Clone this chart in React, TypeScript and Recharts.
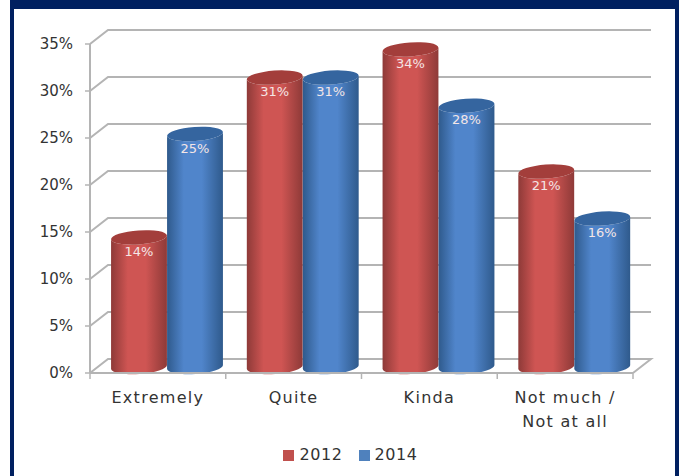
import { BarChart, Bar, XAxis, YAxis, CartesianGrid, Legend, LabelList } from 'recharts';

const categories = ['Extremely', 'Quite', 'Kinda', 'Not much /\nNot at all'];
const values2012 = [14, 31, 34, 21];
const values2014 = [25, 31, 28, 16];
const yTicks = [0, 5, 10, 15, 20, 25, 30, 35];

const chartData = categories.map((name, i) => ({
    name,
    '2012': values2012[i],
    '2014': values2014[i],
}));

const WIDTH = 683;
const HEIGHT = 476;
const PLOT_LEFT = 90;
const PLOT_RIGHT = 633;
const BAND = (PLOT_RIGHT - PLOT_LEFT) / categories.length;

// 3D box depth: how far the back wall sits from the front axes
const DEPTH_X = 18;
const DEPTH_Y = 14;
const GRID = '#b4b4b4';
const TEXT = '#333333';
const FONT = '"DejaVu Sans", sans-serif';

const RED = { fill: '#c0504d', top: '#a33e3b', id: 'cylRed' };
const BLUE = { fill: '#4f81bd', top: '#35659f', id: 'cylBlue' };

const TILT = -4;

// gridlines run up the side wall and then along the back wall
function gridLine(props: any) {
    const { x1, y1, x2, index } = props;
    const isFloor = Math.abs(y1 - 373) < 2;
    const back = y1 - DEPTH_Y;
    let d = `M${x1},${y1} L${x1 + DEPTH_X},${back} L${x2 + DEPTH_X},${back}`;
    if (isFloor) d += ` L${x2},${y1}`;
    return <path key={index} d={d} fill="none" stroke={GRID} strokeWidth={2} />;
}

function Cylinder(props: any) {
    const { x, y, width, height, colors } = props;
    const rx = width / 2;
    const ry = 7;
    const cx = x + rx + DEPTH_X / 2;
    const topY = y - 4;
    const baseY = y + height - 6;
    const rad = (TILT * Math.PI) / 180;
    const dx = rx * Math.cos(rad);
    const dy = rx * Math.sin(rad);
    const body =
        `M${cx - dx},${topY - dy} L${cx - dx},${baseY - dy} ` +
        `A${rx},${ry} ${TILT} 0 0 ${cx + dx},${baseY + dy} ` +
        `L${cx + dx},${topY + dy} A${rx},${ry} ${TILT} 0 1 ${cx - dx},${topY - dy} Z`;
    return (
        <g>
            <path d={body} fill={`url(#${colors.id})`} />
            <ellipse
                cx={cx}
                cy={topY}
                rx={rx}
                ry={ry}
                fill={colors.top}
                transform={`rotate(${TILT} ${cx} ${topY})`}
            />
        </g>
    );
}

function CylinderLabel(props: any) {
    const { x, y, width, value } = props;
    return (
        <text
            x={x + width / 2 + DEPTH_X / 2}
            y={y + 10}
            textAnchor="middle"
            dominantBaseline="central"
            fontSize={13}
            fill="#f4e6e6"
        >
            {`${value}%`}
        </text>
    );
}

// category labels sit mid band, tick marks sit on the band edges
function CategoryTick(props: any) {
    const { x, y, payload, index } = props;
    const lines = String(payload.value).split('\n');
    const axisY = 373;
    return (
        <g>
            <line x1={x - BAND / 2} x2={x - BAND / 2} y1={axisY} y2={axisY + 6} stroke={GRID} strokeWidth={1.5} />
            {index === categories.length - 1 && (
                <line x1={x + BAND / 2} x2={x + BAND / 2} y1={axisY} y2={axisY + 6} stroke={GRID} strokeWidth={1.5} />
            )}
            <text textAnchor="middle" fontSize={16} fill={TEXT} letterSpacing={1.3}>
                {lines.map((line, i) => (
                    <tspan key={i} x={x} y={y + 22 + i * 24}>
                        {line}
                    </tspan>
                ))}
            </text>
        </g>
    );
}

function Gradient({ id, edge, mid }: { id: string; edge: string; mid: string }) {
    return (
        <linearGradient id={id} x1="0" y1="0" x2="1" y2="0">
            <stop offset="0%" stopColor={edge} />
            <stop offset="30%" stopColor={mid} />
            <stop offset="62%" stopColor={mid} />
            <stop offset="100%" stopColor={edge} />
        </linearGradient>
    );
}

export default function App() {
    return (
        <div style={{ position: 'absolute', left: 0, top: 0, width: WIDTH, height: HEIGHT, background: '#fff' }}>
            <div
                style={{
                    position: 'absolute',
                    left: 10,
                    top: 0,
                    width: 669,
                    height: HEIGHT,
                    boxSizing: 'border-box',
                    borderLeft: '4px solid #002060',
                    borderRight: '4px solid #002060',
                    borderTop: '9px solid #002060',
                }}
            />
            <div style={{ position: 'absolute', left: 0, top: 0 }}>
                <BarChart
                    width={WIDTH}
                    height={HEIGHT}
                    data={chartData}
                    margin={{ top: 44, right: WIDTH - PLOT_RIGHT, bottom: 0, left: 0 }}
                    barGap={0}
                    barSize={56}
                    style={{ fontFamily: FONT }}
                >
                    <defs>
                        <Gradient id={RED.id} edge="#8e3a38" mid="#cf5553" />
                        <Gradient id={BLUE.id} edge="#2f5a8c" mid="#5085cb" />
                    </defs>
                    <CartesianGrid vertical={false} horizontal={gridLine} />
                    <XAxis
                        dataKey="name"
                        interval={0}
                        height={84}
                        axisLine={{ stroke: GRID, strokeWidth: 2 }}
                        tickLine={false}
                        tick={CategoryTick}
                    />
                    <YAxis
                        width={PLOT_LEFT}
                        domain={[0, 35]}
                        ticks={yTicks}
                        tickFormatter={(v: number) => `${v}%`}
                        axisLine={{ stroke: GRID, strokeWidth: 2 }}
                        tickLine={{ stroke: GRID, strokeWidth: 1.5 }}
                        tickSize={5}
                        tickMargin={12}
                        tick={{ fill: TEXT, fontSize: 15 }}
                    />
                    <Legend
                        iconType="square"
                        iconSize={11}
                        wrapperStyle={{ top: 445, left: 17, width: 683, fontSize: 16 }}
                        formatter={(value: string) => (
                            <span style={{ color: TEXT, letterSpacing: 0.6, paddingLeft: 1, paddingRight: 6 }}>{value}</span>
                        )}
                    />
                    <Bar dataKey="2012" fill={RED.fill} isAnimationActive={false} shape={(p: any) => <Cylinder {...p} colors={RED} />}>
                        <LabelList dataKey="2012" content={CylinderLabel} />
                    </Bar>
                    <Bar dataKey="2014" fill={BLUE.fill} isAnimationActive={false} shape={(p: any) => <Cylinder {...p} colors={BLUE} />}>
                        <LabelList dataKey="2014" content={CylinderLabel} />
                    </Bar>
                </BarChart>
            </div>
        </div>
    );
}
